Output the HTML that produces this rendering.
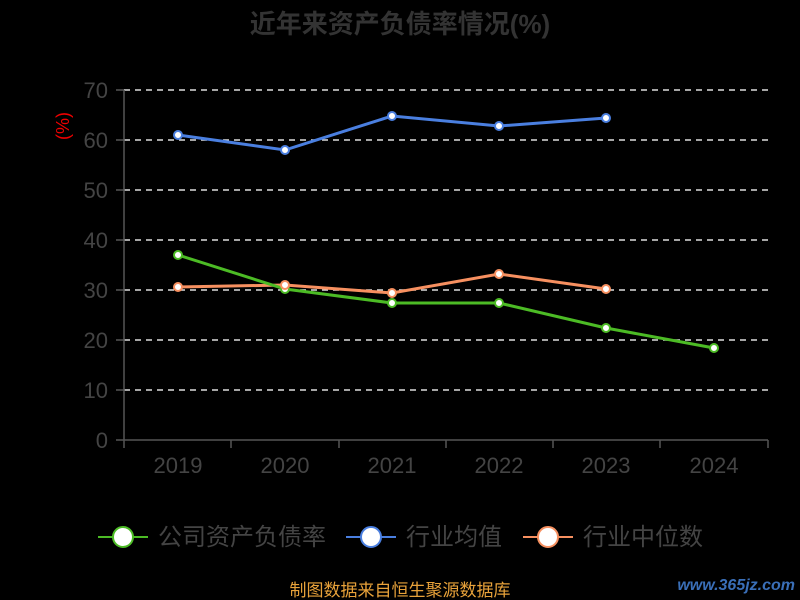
<!DOCTYPE html>
<html><head><meta charset="utf-8"><style>
html,body{margin:0;padding:0;background:#000;}
svg{display:block;}
text{font-family:"Liberation Sans","Noto Sans CJK SC",sans-serif;}
</style></head><body>
<svg width="800" height="600" viewBox="0 0 800 600">
<rect width="800" height="600" fill="#000"/>
<text x="400" y="33" text-anchor="middle" font-size="26" font-weight="bold" fill="#333">近年来资产负债率情况(%)</text>
<g stroke="#ddd" stroke-width="1.5" stroke-dasharray="6,5">
<line x1="124" y1="90" x2="768" y2="90"/><line x1="124" y1="140" x2="768" y2="140"/>
<line x1="124" y1="190" x2="768" y2="190"/><line x1="124" y1="240" x2="768" y2="240"/>
<line x1="124" y1="290" x2="768" y2="290"/><line x1="124" y1="340" x2="768" y2="340"/>
<line x1="124" y1="390" x2="768" y2="390"/>
</g>
<g stroke="#555" stroke-width="1.5">
<line x1="124" y1="90" x2="124" y2="440"/><line x1="124" y1="440" x2="768" y2="440"/>
<line x1="116" y1="90" x2="124" y2="90"/><line x1="116" y1="140" x2="124" y2="140"/><line x1="116" y1="190" x2="124" y2="190"/><line x1="116" y1="240" x2="124" y2="240"/><line x1="116" y1="290" x2="124" y2="290"/><line x1="116" y1="340" x2="124" y2="340"/><line x1="116" y1="390" x2="124" y2="390"/><line x1="116" y1="440" x2="124" y2="440"/>
<line x1="124" y1="440" x2="124" y2="448"/><line x1="231" y1="440" x2="231" y2="448"/><line x1="339" y1="440" x2="339" y2="448"/><line x1="446" y1="440" x2="446" y2="448"/><line x1="553" y1="440" x2="553" y2="448"/><line x1="660" y1="440" x2="660" y2="448"/><line x1="768" y1="440" x2="768" y2="448"/>
</g>
<g font-size="22" fill="#444" text-anchor="end">
<text x="108" y="98">70</text><text x="108" y="148">60</text><text x="108" y="198">50</text><text x="108" y="248">40</text><text x="108" y="298">30</text><text x="108" y="348">20</text><text x="108" y="398">10</text><text x="108" y="448">0</text>
</g>
<g font-size="22" fill="#444" text-anchor="middle">
<text x="178" y="473">2019</text><text x="285" y="473">2020</text><text x="392" y="473">2021</text><text x="499" y="473">2022</text><text x="606" y="473">2023</text><text x="714" y="473">2024</text>
</g>
<text transform="translate(69,126) rotate(-90)" font-size="18" fill="#e00" text-anchor="middle">(%)</text>
<polyline points="178,135 285,150 392,116 499,126 606,118" fill="none" stroke="#4a7fe0" stroke-width="3"/>
<polyline points="178,287 285,285 392,293 499,274 606,289" fill="none" stroke="#f79060" stroke-width="3"/>
<polyline points="178,255 285,289 392,303 499,303 606,328 714,348" fill="none" stroke="#4cbb25" stroke-width="3"/>
<g fill="#fff" stroke="#4a7fe0" stroke-width="2"><circle cx="178" cy="135" r="4"/><circle cx="285" cy="150" r="4"/><circle cx="392" cy="116" r="4"/><circle cx="499" cy="126" r="4"/><circle cx="606" cy="118" r="4"/></g>
<g fill="#fff" stroke="#4cbb25" stroke-width="2"><circle cx="178" cy="255" r="4"/><circle cx="285" cy="289" r="4"/><circle cx="392" cy="303" r="4"/><circle cx="499" cy="303" r="4"/><circle cx="606" cy="328" r="4"/><circle cx="714" cy="348" r="4"/></g>
<g fill="#fff" stroke="#f79060" stroke-width="2"><circle cx="178" cy="287" r="4"/><circle cx="285" cy="285" r="4"/><circle cx="392" cy="293" r="4"/><circle cx="499" cy="274" r="4"/><circle cx="606" cy="289" r="4"/></g>
<g font-size="24" fill="#444">
<line x1="98" y1="537" x2="148" y2="537" stroke="#4cbb25" stroke-width="2"/><circle cx="123" cy="537" r="10" fill="#fff" stroke="#4cbb25" stroke-width="2"/>
<text x="158" y="545">公司资产负债率</text>
<line x1="346" y1="537" x2="396" y2="537" stroke="#4a7fe0" stroke-width="2"/><circle cx="371" cy="537" r="10" fill="#fff" stroke="#4a7fe0" stroke-width="2"/>
<text x="406" y="545">行业均值</text>
<line x1="523" y1="537" x2="573" y2="537" stroke="#f79060" stroke-width="2"/><circle cx="548" cy="537" r="10" fill="#fff" stroke="#f79060" stroke-width="2"/>
<text x="583" y="545">行业中位数</text>
</g>
<text x="400" y="596" text-anchor="middle" font-size="17" fill="#e8a23a">制图数据来自恒生聚源数据库</text>
<text x="795" y="590" text-anchor="end" font-size="16" font-weight="bold" font-style="italic" fill="#3a6fb8">www.365jz.com</text>
</svg>
</body></html>
